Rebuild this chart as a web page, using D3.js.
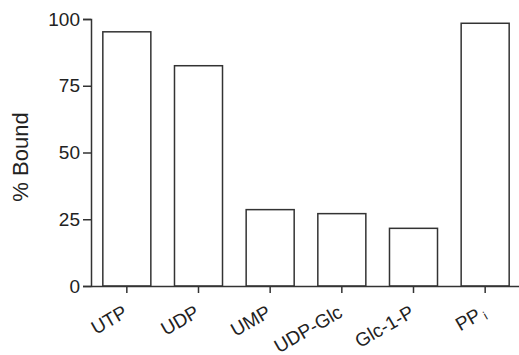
<!DOCTYPE html>
<html>
<head>
<meta charset="utf-8">
<script src="https://cdn.jsdelivr.net/npm/d3@7"></script>
<style>
  body { margin: 0; background: #fff; }
  text { font-family: Arial, "Liberation Sans", sans-serif; fill: #222; }
</style>
</head>
<body>
<svg id="chart"></svg>
<script>
const categories = ["UTP", "UDP", "UMP", "UDP-Glc", "Glc-1-P", "PPi"];
const values = [95.2, 82.5, 28.6, 27.1, 21.6, 98.4];
const yTicks = [0, 25, 50, 75, 100];

const dim = { width: 519, height: 355, left: 91, right: 521, top: 19, bottom: 286 };

const svg = d3.select("#chart")
    .attr("width", dim.width)
    .attr("height", dim.height);

const xScale = d3.scaleBand()
    .domain(categories)
    .range([dim.left, dim.right])
    .paddingInner(0.33)
    .paddingOuter(0.165);

const yScale = d3.scaleLinear()
    .domain([0, 100])
    .range([dim.bottom, dim.top]);

// bars
svg.append("g")
    .selectAll("rect")
    .data(categories)
    .join("rect")
    .attr("x", d => xScale(d))
    .attr("y", (d, i) => yScale(values[i]))
    .attr("width", xScale.bandwidth())
    .attr("height", (d, i) => yScale(0) - yScale(values[i]))
    .attr("fill", "#fff")
    .attr("stroke", "#333")
    .attr("stroke-width", 1.5);

// y axis
const yAxis = d3.axisLeft(yScale)
    .tickValues(yTicks)
    .tickSize(8)
    .tickPadding(3);
const gy = svg.append("g")
    .attr("transform", "translate(" + dim.left + ",0)")
    .call(yAxis);
gy.select(".domain").attr("stroke", "#333").attr("stroke-width", 1.5);
gy.selectAll(".tick line").attr("stroke", "#333").attr("stroke-width", 1.5);
gy.selectAll(".tick text").attr("font-size", 19).style("fill", "#222");

// x axis
const xAxis = d3.axisBottom(xScale)
    .tickSize(7)
    .tickSizeOuter(0)
    .tickFormat("");
const gx = svg.append("g")
    .attr("transform", "translate(0," + dim.bottom + ")")
    .call(xAxis);
gx.select(".domain").attr("stroke", "#333").attr("stroke-width", 1.5);
gx.selectAll(".tick line").attr("stroke", "#333").attr("stroke-width", 1.5);

// rotated category labels
const labels = svg.append("g")
    .selectAll("text")
    .data(categories)
    .join("text")
    .attr("font-size", 19)
    .attr("text-anchor", "end")
    .attr("transform", d => "translate(" + (xScale(d) + xScale.bandwidth() / 2 + 2) + "," + (dim.bottom + 30) + ") rotate(-30)");
labels.each(function(d) {
    const t = d3.select(this);
    if (d === "PPi") {
        t.append("tspan").text("PP");
        t.append("tspan").attr("font-size", 12).attr("dx", 3).attr("dy", 3).text("i");
    } else {
        t.text(d);
    }
});

// y title
svg.append("text")
    .attr("font-size", 22)
    .attr("text-anchor", "middle")
    .attr("transform", "translate(28,157) rotate(-90)")
    .text("% Bound");
</script>
</body>
</html>
